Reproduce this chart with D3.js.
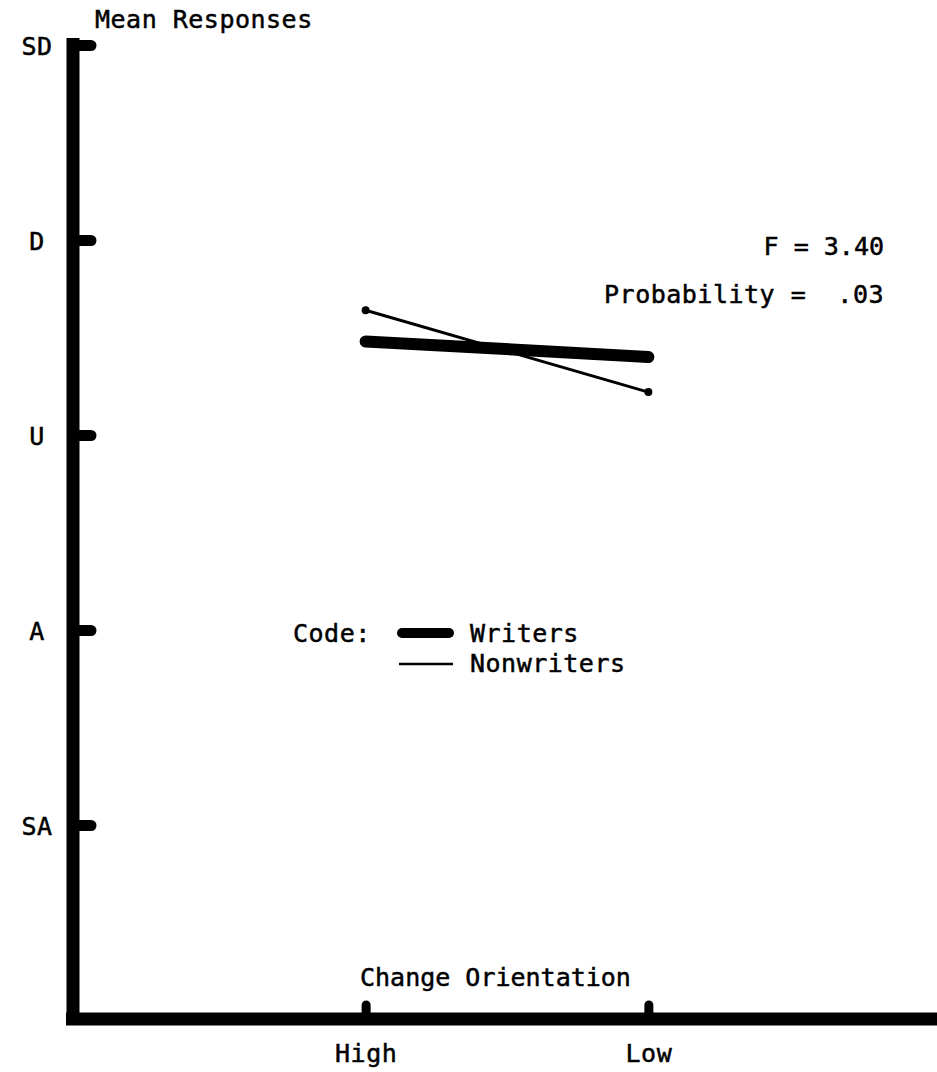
<!DOCTYPE html>
<html><head><meta charset="utf-8">
<script src="https://cdn.jsdelivr.net/npm/d3@7"></script>
<style>
body{margin:0;background:#fff;}
text{font-family:"DejaVu Sans Mono",monospace;font-size:25px;letter-spacing:0.5px;fill:#000;stroke:#000;stroke-width:0.5px;white-space:pre;}
</style></head><body>
<script>
const categories = ["High","Low"];
const levelLabels = ["SA","A","U","D","SD"];
const levelValues = [1,2,3,4,5];
const writers = [3.48, 3.40];
const nonwriters = [3.64, 3.22];
const seriesNames = ["Writers","Nonwriters"];
const stats = ["F = 3.40", "Probability =  .03"];

const W=937,H=1072;
const svg=d3.select("body").append("svg").attr("width",W).attr("height",H);

const y=d3.scaleLinear().domain([1,5]).range([825,45]);
const x=d3.scalePoint().domain(categories).range([73,941]).padding(1.035);
const axX=73, axY=1019;

// y axis
const ya=svg.append("g").attr("transform",`translate(${axX},0)`)
  .call(d3.axisLeft(y).tickValues(levelValues).tickFormat((d,i)=>levelLabels[i]).tickSizeInner(-22).tickSizeOuter(0).tickPadding(36));
ya.select(".domain").remove();
ya.selectAll(".tick line").attr("stroke","#000").attr("stroke-width",11).attr("stroke-linecap","round").attr("x1",0).attr("x2",18);
ya.selectAll(".tick text").attr("text-anchor","middle").attr("dy","0.36em").attr("font-size",null).attr("font-family",null).attr("fill",null);
svg.append("line").attr("x1",axX).attr("x2",axX).attr("y1",38).attr("y2",axY+6).attr("stroke","#000").attr("stroke-width",13);

// x axis
const xa=svg.append("g").attr("transform",`translate(0,${axY})`)
  .call(d3.axisBottom(x).tickSizeInner(-14).tickSizeOuter(0).tickPadding(25));
xa.select(".domain").remove();
xa.selectAll(".tick line").attr("stroke","#000").attr("stroke-width",9).attr("stroke-linecap","round").attr("y1",0).attr("y2",-14);
xa.selectAll(".tick text").attr("dy","0.71em").attr("font-size",null).attr("font-family",null).attr("fill",null);
svg.append("line").attr("x1",66).attr("x2",W).attr("y1",axY).attr("y2",axY).attr("stroke","#000").attr("stroke-width",13);

// titles
svg.append("text").attr("x",95).attr("y",28).text("Mean Responses");
svg.append("text").attr("x",360).attr("y",986).style("letter-spacing","0px").text("Change Orientation");
svg.append("text").attr("x",884).attr("y",255).attr("text-anchor","end").style("letter-spacing","0px").text(stats[0]);
svg.append("text").attr("x",884).attr("y",303).attr("text-anchor","end").text(stats[1]);

// lines
const line=d3.line().x((d,i)=>x(categories[i])).y(d=>y(d));
svg.append("path").datum(nonwriters).attr("d",line).attr("fill","none").attr("stroke","#000").attr("stroke-width",3);
svg.selectAll(".dot").data(nonwriters).enter().append("circle")
  .attr("cx",(d,i)=>x(categories[i])).attr("cy",d=>y(d)).attr("r",4);
svg.append("path").datum(writers).attr("d",line).attr("fill","none").attr("stroke","#000").attr("stroke-width",12).attr("stroke-linecap","round");

// legend
svg.append("text").attr("x",293).attr("y",642).text("Code:");
svg.append("line").attr("x1",402).attr("x2",449).attr("y1",633).attr("y2",633).attr("stroke","#000").attr("stroke-width",10).attr("stroke-linecap","round");
svg.append("text").attr("x",470).attr("y",642).text(seriesNames[0]);
svg.append("line").attr("x1",399).attr("x2",453).attr("y1",664).attr("y2",664).attr("stroke","#000").attr("stroke-width",2.5);
svg.append("text").attr("x",470).attr("y",672).text(seriesNames[1]);
</script>
</body></html>
